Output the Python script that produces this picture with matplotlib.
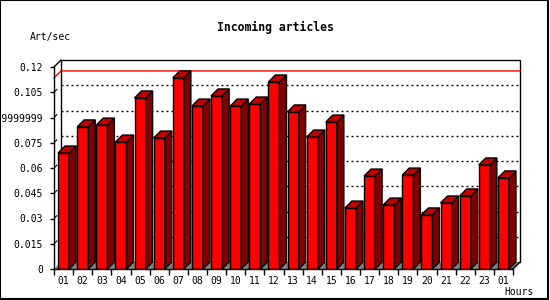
import numpy as np
import matplotlib.pyplot as plt
from matplotlib.patches import Rectangle

# Hourly incoming articles (art/sec)
hours = ['01', '02', '03', '04', '05', '06', '07', '08', '09', '10', '11', '12',
         '13', '14', '15', '16', '17', '18', '19', '20', '21', '22', '23', '01']
art_per_sec = [0.0689, 0.0844, 0.0855, 0.0754, 0.1016, 0.0778, 0.1135, 0.0968,
               0.1028, 0.0968, 0.0980, 0.1111, 0.0933, 0.0784, 0.0873, 0.0362,
               0.0552, 0.0380, 0.0558, 0.0321, 0.0392, 0.0434, 0.0618, 0.0541]
y_ticks = [0, 0.015, 0.03, 0.045, 0.06, 0.075, 0.09, 0.105, 0.12]
y_tick_labels = ['0', '0.015', '0.03', '0.045', '0.06', '0.075', '0.0899999999', '0.105', '0.12']

mono = 'DejaVu Sans Mono'
face_col = '#ff0000'
side_col = '#800000'
top_col = '#c00000'
floor_col = '#808080'

W, H = 550, 300
fig = plt.figure(figsize=(W / 100, H / 100), dpi=100)
fig.patch.set_facecolor('white')

# front plane of the plot, in pixels
left_px, right_px, bottom_px, top_px = 54, 513, 269, 67
ax = fig.add_axes([left_px / W, (H - bottom_px) / H,
                   (right_px - left_px) / W, (bottom_px - top_px) / H])
ax.set_facecolor('none')

n = len(art_per_sec)
x = np.arange(n)
x0, x1 = -0.5, n - 0.5
ymax = y_ticks[-1]
ax.set_xlim(x0, x1)
ax.set_ylim(0, ymax)

# 3D depth converted to data units
depth_px = 7
dx = depth_px * (x1 - x0) / (right_px - left_px)
dy = depth_px * ymax / (bottom_px - top_px)
bw = 0.58

# floor and back wall
ax.fill([x0, x1, x1 + dx, x0 + dx], [0, 0, dy, dy], color=floor_col, lw=0, zorder=1, clip_on=False)
ax.plot([x0 + dx, x0 + dx, x1 + dx, x1 + dx], [dy, ymax + dy, ymax + dy, dy],
        color='black', lw=1, zorder=1.2, clip_on=False)
ax.plot([x0, x0 + dx], [ymax, ymax + dy], color='black', lw=1, zorder=1.2, clip_on=False)
ax.plot([x1, x1 + dx], [0, dy], color='black', lw=1, zorder=4, clip_on=False)

# dashed grid on the back wall
for v in y_ticks[1:-1]:
    ax.plot([x0 + dx, x1 + dx], [v + dy, v + dy], color='black', lw=1,
            ls=(0, (1.4, 2.2)), zorder=1.3, clip_on=False)
    # small inner diagonal tick
    ax.plot([x0, x0 + dx * 0.4], [v, v + dy * 0.4], color='black', lw=0.8, zorder=1.3)

# max line
vmax = max(art_per_sec)
ax.plot([x0, x0 + dx, x1 + dx], [vmax, vmax + dy, vmax + dy], color='red', lw=1,
        zorder=1.4, clip_on=False)

# bars: front, side, top
ax.bar(x, art_per_sec, width=bw, color=face_col, edgecolor='black', lw=1, zorder=3)
for xi, v in zip(x, art_per_sec):
    xr = xi + bw / 2
    xl = xi - bw / 2
    ax.fill([xr, xr + dx, xr + dx, xr], [0, dy, v + dy, v], color=side_col,
            ec='black', lw=1, zorder=3, clip_on=False)
    ax.fill([xl, xl + dx, xr + dx, xr], [v, v + dy, v + dy, v], color=top_col,
            ec='black', lw=1, zorder=3, clip_on=False)

# axes / ticks
for s in ['top', 'right']:
    ax.spines[s].set_visible(False)
for s in ['left', 'bottom']:
    ax.spines[s].set_linewidth(1)
    ax.spines[s].set_zorder(4)

ax.set_xticks(np.arange(n + 1) - 0.5)
ax.set_xticklabels([])
ax.set_xticks(x, minor=True)
ax.set_xticklabels(hours, minor=True, fontsize=7, family=mono)
ax.tick_params(axis='x', which='major', length=4, width=1, direction='out')
ax.tick_params(axis='x', which='minor', length=0, pad=5)

ax.set_yticks(y_ticks)
ax.set_yticklabels(y_tick_labels, fontsize=7, family=mono)
ax.tick_params(axis='y', length=3, width=1, direction='out', pad=5)

# texts
fig.text(0.5, 1 - 27 / H, 'Incoming articles', ha='center', va='center',
         fontsize=8.3, fontweight='bold', family=mono)
fig.text(30 / W, 1 - 37 / H, 'Art/sec', ha='left', va='center', fontsize=7, family=mono)
fig.text(534 / W, 1 - 292 / H, 'Hours', ha='right', va='center', fontsize=7, family=mono)

# outer frame
fig.add_artist(Rectangle((0, 1.5 / H), 548 / W, 1 - 1.5 / H, transform=fig.transFigure,
                         fill=False, edgecolor='black', lw=1.5))

fig.savefig('out.png', dpi=100)
